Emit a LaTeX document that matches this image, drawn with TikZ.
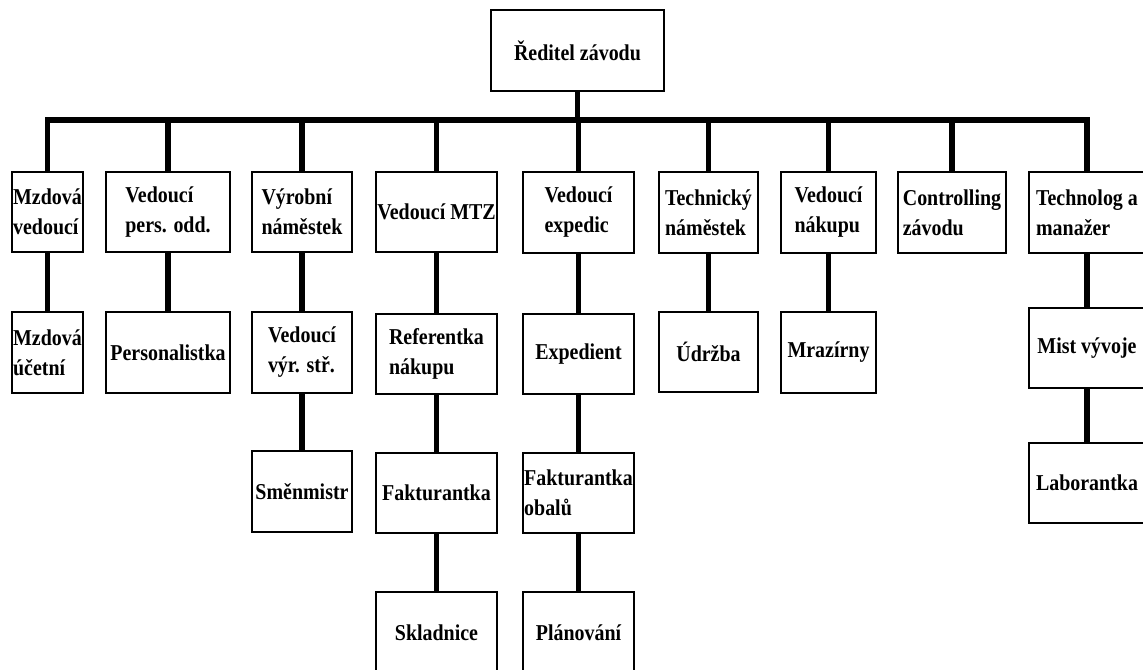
\documentclass[tikz,border=0pt]{standalone}
\usepackage{fontspec}
\setmainfont[FakeStretch=0.88]{Liberation Serif}
\tikzset{
  box/.style={draw=black, line width=1pt, fill=white, inner sep=0.5pt, align=left,
    font=\fontsize{17}{22.5}\selectfont\bfseries},
  conn/.style={line width=4pt, line join=miter, line cap=butt},
}
\newcommand\orgbox[6]{\node[box,minimum width={(#4-#2)*0.75pt},minimum height={(#5-#3)*0.75pt}] (#1) at ({(#2+#4)/2},{(#3+#5)/2}) {#6};}
\begin{document}
\begin{tikzpicture}[x=0.75pt,y=-0.75pt]
\useasboundingbox (0,0) rectangle (1143,670);
\fill[white] (0,0) rectangle (1143,670);
\clip (0,0) rectangle (1143,670);
% top
\orgbox{top}{491}{10}{664}{91}{Ředitel závodu}
% level 1
\orgbox{a1}{12}{172}{83}{252}{Mzdová\\vedoucí}
\orgbox{b1}{106}{172}{230}{252}{Vedoucí\\pers. odd.}
\orgbox{c1}{252}{172}{352}{252}{Výrobní\\náměstek}
\orgbox{d1}{376}{172}{497}{252}{Vedoucí MTZ}
\orgbox{e1}{523}{172}{634}{253}{Vedoucí\\expedic}
\orgbox{f1}{659}{172}{758}{253}{Technický\\náměstek}
\orgbox{g1}{781}{172}{876}{253}{Vedoucí\\nákupu}
\orgbox{h1}{898}{172}{1006}{253}{Controlling\\závodu}
\orgbox{i1}{1029}{172}{1145}{253}{Technolog a\\manažer}
% level 2
\orgbox{a2}{12}{312}{83}{393}{Mzdová\\účetní}
\orgbox{b2}{106}{312}{230}{393}{Personalistka}
\orgbox{c2}{252}{312}{352}{393}{Vedoucí\\výr. stř.}
\orgbox{d2}{376}{314}{497}{394}{Referentka\\nákupu}
\orgbox{e2}{523}{314}{634}{394}{Expedient}
\orgbox{f2}{659}{312}{758}{392}{Údržba}
\orgbox{g2}{781}{312}{876}{393}{Mrazírny}
\orgbox{i2}{1029}{308}{1145}{388}{Mist vývoje}
% level 3
\orgbox{c3}{252}{451}{352}{532}{Směnmistr}
\orgbox{d3}{376}{453}{497}{533}{Fakturantka}
\orgbox{e3}{523}{453}{634}{533}{Fakturantka\\obalů}
\orgbox{i3}{1029}{443}{1145}{523}{Laborantka}
% level 4
\orgbox{d4}{376}{592}{497}{674}{Skladnice}
\orgbox{e4}{523}{592}{634}{674}{Plánování}
% connectors
\coordinate (bus) at (0,120);
\draw[conn] (top.south) -- (top.south |- bus);
\draw[conn] (a1.north) -- (a1.north |- bus) -- (i1.north |- bus) -- (i1.north);
\foreach \n in {b1,c1,d1,e1,f1,g1,h1}
  \draw[conn] (\n.north |- bus) -- (\n.north);
\foreach \u/\l in {a1/a2,b1/b2,c1/c2,c2/c3,d1/d2,d2/d3,d3/d4,e1/e2,e2/e3,e3/e4,f1/f2,g1/g2,i1/i2,i2/i3}
  \draw[conn] (\u.south) -- (\l.north);
\end{tikzpicture}
\end{document}
